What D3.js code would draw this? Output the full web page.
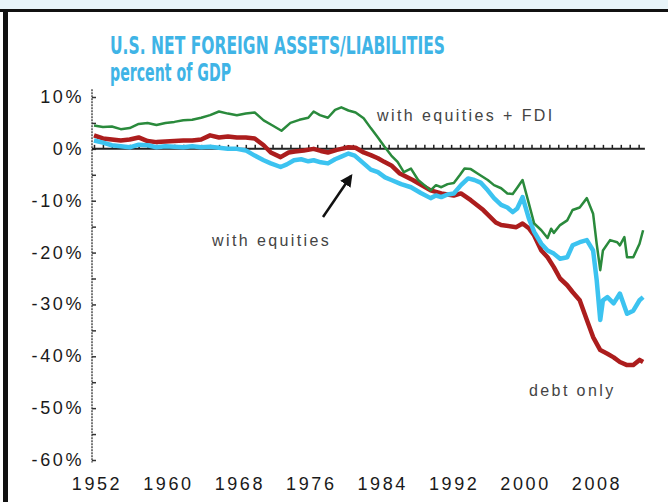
<!DOCTYPE html>
<html lang="en">
<head>
    <meta charset="UTF-8">
    <title>U.S. Net Foreign Assets/Liabilities</title>
    <script src="https://cdn.jsdelivr.net/npm/d3@7"></script>
    <style>
        body {
            margin: 0;
            background-color: #fff;
            font-family: 'Liberation Sans', Arial, sans-serif;
        }
        svg {
            display: block;
        }
        .tick-label {
            font-size: 18px;
            fill: #1a1a1a;
            letter-spacing: 2.6px;
        }
        .note {
            font-size: 16px;
            fill: #444;
            letter-spacing: 2.4px;
        }
        .title {
            font-family: 'Liberation Sans Narrow', 'DejaVu Sans Condensed', sans-serif;
            font-weight: bold;
            font-size: 24px;
            fill: #3fb4e6;
        }
    </style>
</head>
<body>
    <svg></svg>

    <script>
        // series: [year, percent of GDP]
        const equitiesFdi = [
            [1952, 4.5], [1953, 4.2], [1954, 4.3], [1955, 3.8], [1956, 4.0], [1957, 4.8],
            [1958, 5.0], [1959, 4.6], [1960, 5.0], [1961, 5.2], [1962, 5.5], [1963, 5.6],
            [1964, 6.0], [1965, 6.5], [1966, 7.2], [1967, 6.8], [1968, 6.5], [1969, 6.8],
            [1970, 7.0], [1971, 5.5], [1972, 4.5], [1973, 3.5], [1974, 5.0], [1975, 5.6],
            [1976, 6.0], [1976.6, 7.2], [1977.3, 6.5], [1978.2, 6.0], [1979, 7.5], [1979.7, 8.0],
            [1980.5, 7.4], [1981.3, 7.0], [1982.2, 5.9], [1983, 4.0], [1983.8, 2.2], [1984.5, 0.5],
            [1985.3, -1.3], [1986, -2.5], [1986.7, -4.5], [1987.5, -3.8], [1988.3, -6.0], [1989, -7.0],
            [1989.7, -8.0], [1990.3, -7.0], [1990.9, -7.4], [1991.6, -6.8], [1992.3, -6.6], [1993, -5.0],
            [1993.5, -3.8], [1994.2, -3.9], [1995, -4.8], [1996.1, -6.0], [1996.8, -7.0], [1997.6, -7.6],
            [1998.3, -8.6], [1998.9, -8.7], [1999.4, -7.5], [2000.0, -6.0], [2000.7, -10.5], [2001.3, -14.4],
            [2002.1, -15.7], [2002.8, -17.2], [2003.2, -15.4], [2003.5, -16.2], [2004.2, -14.7], [2005.0, -13.8],
            [2005.6, -11.8], [2006.4, -11.3], [2007.2, -9.5], [2007.9, -12.5], [2008.3, -18.3], [2008.7, -23.4],
            [2009.0, -19.6], [2009.8, -17.6], [2010.6, -18], [2010.9, -18.6], [2011.4, -17], [2011.7, -20.9],
            [2012.4, -20.9], [2013.1, -18.3], [2013.5, -15.7]
        ];

        const withEquities = [
            [1952, 1.6], [1953, 1.2], [1954, 0.7], [1955, 0.5], [1956, 0.3], [1957, 0.8],
            [1958, 0.7], [1959, 0.3], [1960, 0.5], [1961, 0.4], [1962, 0.3], [1963, 0.5],
            [1964, 0.3], [1965, 0.4], [1966, 0.2], [1967, 0.0], [1968, 0.0], [1969, -0.3],
            [1970, -1.3], [1971, -2.2], [1971.8, -2.8], [1972.9, -3.5], [1973.6, -3.0], [1974.4, -2.2],
            [1975.2, -2.0], [1976, -2.4], [1976.6, -2.2], [1977.4, -2.6], [1978.2, -2.8], [1979, -2.0],
            [1979.7, -1.5], [1980.5, -0.9], [1981.2, -1.3], [1982.2, -2.8], [1983, -4.0], [1983.8, -4.5],
            [1984.6, -5.5], [1985.3, -6.0], [1986.4, -6.8], [1987.5, -7.4], [1988.6, -8.5], [1989.7, -9.5],
            [1990.3, -9.0], [1990.9, -9.3], [1991.6, -8.8], [1992.3, -8.6], [1993.1, -7.0], [1993.9, -5.7],
            [1994.6, -6.0], [1995.3, -6.5], [1996.1, -8.0], [1996.8, -9.5], [1997.6, -10.8], [1998.3, -11.3],
            [1998.9, -12.2], [1999.4, -11.5], [2000.0, -9.3], [2000.7, -13.4], [2001.3, -16], [2002.1, -18.3],
            [2002.8, -19.6], [2003.5, -20.2], [2004.2, -21.2], [2005.0, -20.9], [2005.6, -18.6], [2006.4, -18],
            [2007.2, -17.6], [2007.9, -19.6], [2008.3, -25.3], [2008.7, -33], [2009.0, -29.2], [2009.5, -28.6],
            [2010.2, -29.8], [2010.9, -27.9], [2011.7, -31.8], [2012.4, -31.2], [2013.1, -29.2], [2013.5, -28.6]
        ];

        const debtOnly = [
            [1952, 2.6], [1953, 2.0], [1954, 1.8], [1955, 1.6], [1956, 1.8], [1957, 2.2],
            [1958, 1.5], [1959, 1.3], [1960, 1.4], [1961, 1.5], [1962, 1.6], [1963, 1.6],
            [1964, 1.8], [1965, 2.6], [1966, 2.2], [1967, 2.4], [1968, 2.2], [1969, 2.2],
            [1970, 2.0], [1971, 0.7], [1971.8, -0.7], [1972.9, -1.6], [1973.8, -0.7], [1974.5, -0.5],
            [1975.5, -0.3], [1976.6, 0.0], [1977.4, -0.4], [1978.2, -0.7], [1979.2, -0.2], [1979.7, 0.0],
            [1980.5, 0.3], [1981.3, 0.2], [1982.2, -0.7], [1983, -1.2], [1983.8, -1.8], [1984.5, -2.5],
            [1985.3, -3.2], [1986.2, -4.7], [1987.7, -6.0], [1989.7, -8.0], [1990.9, -8.6], [1992.3, -9.0],
            [1993.1, -8.6], [1994.2, -9.9], [1995.6, -11.8], [1997.0, -14.2], [1997.6, -14.7], [1999.3, -15.1],
            [2000.0, -14.4], [2000.7, -15.3], [2001.3, -16.7], [2002.1, -19.6], [2002.8, -20.9], [2003.5, -22.8],
            [2004.2, -25], [2005.0, -26.3], [2005.6, -27.6], [2006.4, -29.2], [2007.2, -33], [2007.9, -36.3],
            [2008.7, -38.8], [2009.5, -39.5], [2010.2, -40.2], [2010.9, -41.1], [2011.7, -41.7], [2012.4, -41.7],
            [2013.1, -40.7], [2013.5, -41.1]
        ];

        const yearTicks = [1952, 1960, 1968, 1976, 1984, 1992, 2000, 2008];
        const pctTicks = [10, 0, -10, -20, -30, -40, -50, -60];
        const titleLines = ["U.S. NET FOREIGN ASSETS/LIABILITIES", "percent of GDP"];

        const width = 668;
        const height = 502;

        const svg = d3.select("svg")
            .attr("width", width)
            .attr("height", height);

        // frame: pale strip on top, black rule, black bar on the left
        svg.append("rect").attr("x", 0).attr("y", 0).attr("width", width).attr("height", 9).attr("fill", "#e8f4f9");
        svg.append("rect").attr("x", 0).attr("y", 9).attr("width", width).attr("height", 3).attr("fill", "#111");
        svg.append("rect").attr("x", 3).attr("y", 9).attr("width", 5).attr("height", height - 9).attr("fill", "#111");

        const x = d3.scaleLinear().domain([1952, 2008]).range([94, 594]);
        const y = d3.scaleLinear().domain([10, -60]).range([97, 460]);

        // title
        svg.selectAll(".title")
            .data(titleLines)
            .enter().append("text")
            .attr("class", "title")
            .attr("x", 110)
            .attr("y", (d, i) => 54 + i * 27)
            .attr("textLength", (d, i) => i === 0 ? 335 : 121)
            .attr("lengthAdjust", "spacingAndGlyphs")
            .text(d => d);

        // y axis
        const yAxis = d3.axisRight(y)
            .tickValues(d3.range(10, -61, -5))
            .tickSize(4)
            .tickFormat("");
        const yAxisG = svg.append("g")
            .attr("transform", "translate(92,0)")
            .call(yAxis);
        yAxisG.select(".domain")
            .attr("d", `M0,${y(11.5)}V${y(-60.5)}`)
            .attr("stroke", "#777")
            .attr("stroke-width", 2)
            .attr("stroke-dasharray", "2,1");
        yAxisG.selectAll(".tick line").attr("stroke", "#333").attr("stroke-width", 1.5);

        svg.selectAll(".y-label")
            .data(pctTicks)
            .enter().append("text")
            .attr("class", "tick-label")
            .attr("x", 84)
            .attr("y", d => y(d) + 6)
            .attr("text-anchor", "end")
            .text(d => d + "%");

        svg.selectAll(".x-label")
            .data(yearTicks)
            .enter().append("text")
            .attr("class", "tick-label")
            .attr("x", d => x(d) + 3)
            .attr("y", 490)
            .attr("text-anchor", "middle")
            .text(d => d);

        // zero line with yearly ticks
        const zeroAxis = d3.axisTop(x)
            .tickValues(d3.range(1952, 2014))
            .tickSize(4)
            .tickSizeOuter(0)
            .tickFormat("");
        const zeroG = svg.append("g")
            .attr("transform", `translate(0,${y(0)})`)
            .call(zeroAxis);
        zeroG.select(".domain")
            .attr("d", `M${x(1952) - 2},0H${x(2013.7)}`)
            .attr("stroke", "#222")
            .attr("stroke-width", 2);
        zeroG.selectAll(".tick line").attr("stroke", "#222").attr("stroke-width", 1.5);

        const line = d3.line()
            .x(d => x(d[0]))
            .y(d => y(d[1]));

        const series = [
            { data: debtOnly, color: "#ac1d1d", w: 4.5 },
            { data: withEquities, color: "#3cc3f0", w: 4.5 },
            { data: equitiesFdi, color: "#2a8a3c", w: 2.5 }
        ];

        svg.selectAll(".series")
            .data(series)
            .enter().append("path")
            .attr("class", "series")
            .attr("d", d => line(d.data))
            .attr("fill", "none")
            .attr("stroke", d => d.color)
            .attr("stroke-width", d => d.w)
            .attr("stroke-linejoin", "round");

        // notes
        svg.append("text").attr("class", "note").attr("x", 377).attr("y", 121).text("with equities + FDI");
        svg.append("text").attr("class", "note").attr("x", 212).attr("y", 246).text("with equities");
        svg.append("text").attr("class", "note").attr("x", 529).attr("y", 396).text("debt only");

        // arrow pointing at the equities line
        svg.append("defs").append("marker")
            .attr("id", "head")
            .attr("viewBox", "0 0 10 10")
            .attr("refX", 8).attr("refY", 5)
            .attr("markerWidth", 5).attr("markerHeight", 5)
            .attr("orient", "auto")
            .append("path")
            .attr("d", "M0,0L10,5L0,10z")
            .attr("fill", "#111");

        svg.append("line")
            .attr("x1", 323).attr("y1", 217)
            .attr("x2", 351).attr("y2", 176)
            .attr("stroke", "#111")
            .attr("stroke-width", 2.5)
            .attr("marker-end", "url(#head)");
    </script>
</body>
</html>
